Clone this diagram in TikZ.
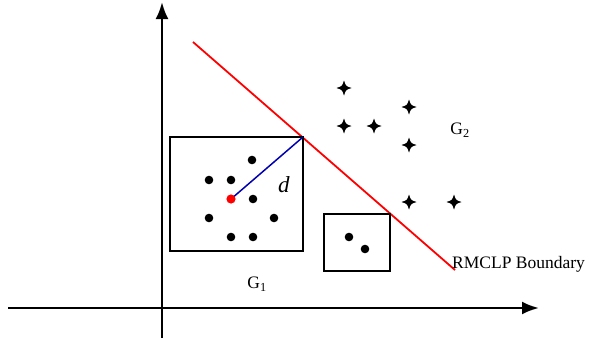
\documentclass[tikz,border=0pt]{standalone}
\usepackage{fontspec}
\setmainfont{Liberation Serif}
\usetikzlibrary{arrows.meta}
\tikzset{
  pt/.style={fill=black},
  plus/.pic={\fill (0,-7.5) .. controls (1.8,-1.8) .. (7.5,0) .. controls (1.8,1.8) .. (0,7.5)
     .. controls (-1.8,1.8) .. (-7.5,0) .. controls (-1.8,-1.8) .. (0,-7.5);},
  lbl/.style={font=\fontsize{17.5}{20}\selectfont, inner sep=0pt}
}
\begin{document}
\begin{tikzpicture}[x=1pt,y=-1pt]
            \useasboundingbox (0,0) rectangle (589,340);
            % axes
            \draw[line width=2.6pt,-{Latex[length=17pt,width=13pt]}] (8, 308) -- (539, 308);
            \draw[line width=2.6pt,-{Latex[length=17pt,width=13pt]}] (162, 338) -- (162, 2);
            % boundary
            \draw[red,line width=1.8pt] (193, 42) -- (455, 270);
            \draw[line width=1.3pt] (170, 137) rectangle (303, 251);
            \draw[line width=1.3pt] (324, 214) rectangle (390, 271);
            \coordinate (corner) at (303, 137);
            \coordinate (center) at (231, 199);
            \draw[blue!70!black,line width=1.5pt] (center) -- (corner);
            \foreach \p in {(252,160),(209,180),(231,180),(253,199),(209,218),(274,218),(231,237),(253,237),(349,237),(365,249)}
              \fill \p circle (4.3);
            \fill[red] (center) circle (4.6);
            \foreach \p in {(344,88),(409,107),(344,126),(374,126),(409,145),(409,202),(454,202)}
              \pic at \p {plus};
            \node[lbl,font=\fontsize{23}{26}\selectfont] (dlab) at (284, 185) {\textit{d}};
            \node[lbl] (gone) at (257, 284) {G\textsubscript{1}};
            \node[lbl] (gtwo) at (460, 130) {G\textsubscript{2}};
            \node[lbl,anchor=west] (bnd) at (452, 264) {RMCLP Boundary};
        \end{tikzpicture}
\end{document}
